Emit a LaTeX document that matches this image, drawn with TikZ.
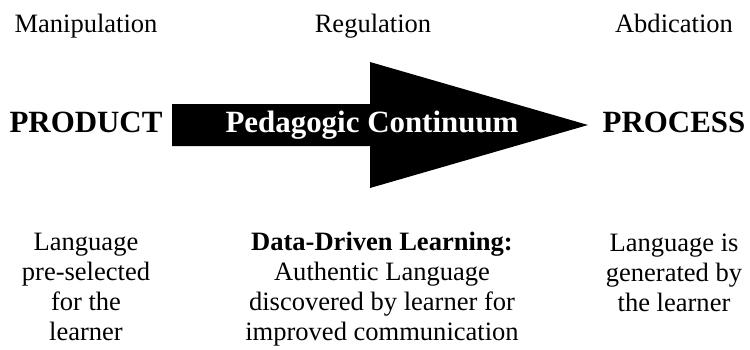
\documentclass[tikz,border=0pt]{standalone}
\usepackage{fontspec}
\setmainfont{Liberation Serif}
\usetikzlibrary{positioning,calc}

\begin{document}
\begin{tikzpicture}[
    x=0.02cm, y=-0.02cm,
    stage/.style={anchor=base, inner sep=0pt, font=\fontsize{15.1}{17}\selectfont},
    pole/.style={anchor=base, inner sep=0pt, font=\fontsize{17.6}{20}\selectfont\bfseries},
    note/.style={anchor=base, inner sep=0pt, align=center, font=\fontsize{15.1}{16.9}\selectfont},
    bigarrow/.style={fill=black, draw=none}
]
\useasboundingbox (0,0) rectangle (750,349);

% Big arrow
\fill[bigarrow] (172,104) -- (370,104) -- (370,62) -- (588,125)
    -- (370,188) -- (370,146) -- (172,146) -- cycle;
\node[pole, text=white] (continuum) at (372,132) {Pedagogic Continuum};

% Ends of the continuum
\node[pole] (product) at (86,132) {PRODUCT};
\node[pole] (process) at (674,132) {PROCESS};

% Stages along the top
\node[stage] (manip) at ($(product.base) + (0,-100)$) {Manipulation};
\node[stage] (regul) at ($(continuum.base) + (1,-100)$) {Regulation};
\node[stage] (abdic) at ($(process.base) + (0,-100)$) {Abdication};

% Notes under each end (base sits on the last line)
\node[note] (selected) at ($(product.base) + (0,208)$) {Language\\pre-selected\\for the\\learner};
\node[note] (ddl) at ($(continuum.base) + (10,208)$) {\textbf{Data-Driven Learning:}\\Authentic Language\\discovered by learner for\\improved communication};
\node[note] (generated) at ($(process.base) + (0,179)$) {Language is\\generated by\\the learner};

\end{tikzpicture}
\end{document}
